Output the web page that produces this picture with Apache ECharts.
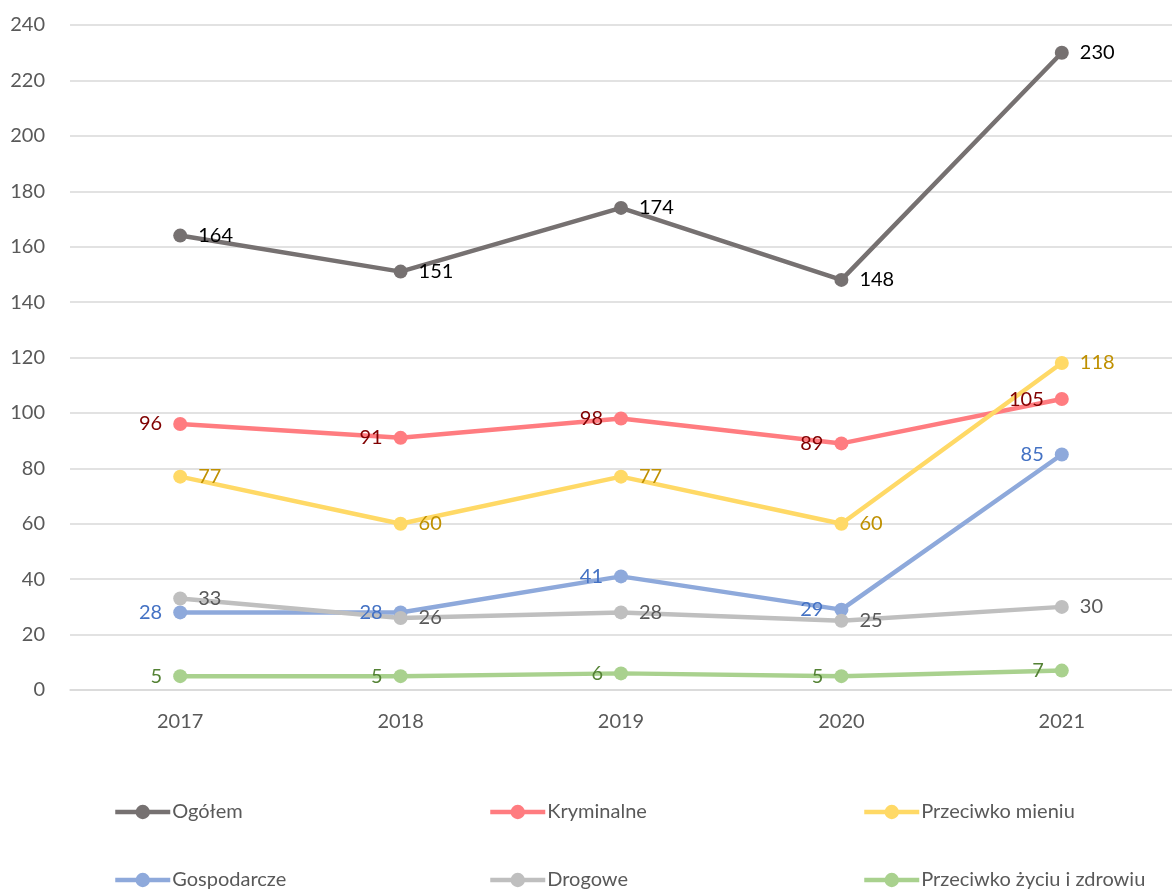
<!DOCTYPE html>
<html>
<head>
<meta charset="utf-8">
<script src="https://cdn.jsdelivr.net/npm/echarts@6/dist/echarts.min.js"></script>
<style>
  html, body { margin: 0; padding: 0; background: #fff; }
  #chart { width: 1172px; height: 891px; }
</style>
</head>
<body>
<div id="chart"></div>
<script>
const years = ['2017', '2018', '2019', '2020', '2021']
const ogolem = [164, 151, 174, 148, 230]
const kryminalne = [96, 91, 98, 89, 105]
const mienie = [77, 60, 77, 60, 118]
const gospodarcze = [28, 28, 41, 29, 85]
const drogowe = [33, 26, 28, 25, 30]
const zycie = [5, 5, 6, 5, 7]

const font = 'Lato'
const fs = 20

function makeSeries(name, data, lineColor, labelColor, pos) {
  return {
    name,
    type: 'line',
    data,
    symbol: 'circle',
    symbolSize: 14,
    lineStyle: { width: 4.5, color: lineColor },
    itemStyle: { color: lineColor },
    label: {
      show: true,
      position: pos,
      distance: 11,
      color: labelColor,
      fontSize: fs,
      fontFamily: font,
    },
    emphasis: { disabled: true },
  }
}

// one legend per entry so the columns line up like the original
function legendAt(name, left, top) {
  return {
    left,
    top,
    padding: 0,
    data: [name],
    itemWidth: 55,
    itemHeight: 18,
    lineStyle: { width: 4.5 },
    textStyle: { fontSize: fs, fontFamily: font, color: '#595959', padding: [0, 0, 0, -3] },
  }
}

const chart = echarts.init(document.getElementById('chart'))
chart.setOption({
  animation: false,
  textStyle: { fontFamily: font },
  grid: { left: 70, right: 0, top: 25, bottom: 201 },
  legend: [
    legendAt('Ogółem', 113, 802),
    legendAt('Gospodarcze', 113, 870),
    legendAt('Kryminalne', 488, 802),
    legendAt('Drogowe', 488, 870),
    legendAt('Przeciwko mieniu', 862, 802),
    legendAt('Przeciwko życiu i zdrowiu', 862, 870),
  ],
  xAxis: {
    type: 'category',
    data: years,
    boundaryGap: true,
    axisLine: { lineStyle: { color: '#D9D9D9', width: 1.5 } },
    axisTick: { show: false },
    axisLabel: { color: '#595959', fontSize: fs, fontFamily: font, margin: 22 },
  },
  yAxis: {
    type: 'value',
    min: 0,
    max: 240,
    interval: 20,
    axisLine: { show: false },
    axisTick: { show: false },
    splitLine: { lineStyle: { color: '#D9D9D9', width: 1.5 } },
    axisLabel: { color: '#595959', fontSize: fs, fontFamily: font, margin: 25 },
  },
  series: [
    makeSeries('Ogółem', ogolem, '#767171', '#000000', 'right'),
    makeSeries('Kryminalne', kryminalne, '#FF7C80', '#800000', 'left'),
    makeSeries('Przeciwko mieniu', mienie, '#FFD966', '#BF9000', 'right'),
    makeSeries('Gospodarcze', gospodarcze, '#8EA9DB', '#4472C4', 'left'),
    makeSeries('Drogowe', drogowe, '#BFBFBF', '#595959', 'right'),
    makeSeries('Przeciwko życiu i zdrowiu', zycie, '#A9D18E', '#548235', 'left'),
  ],
})
</script>
</body>
</html>
